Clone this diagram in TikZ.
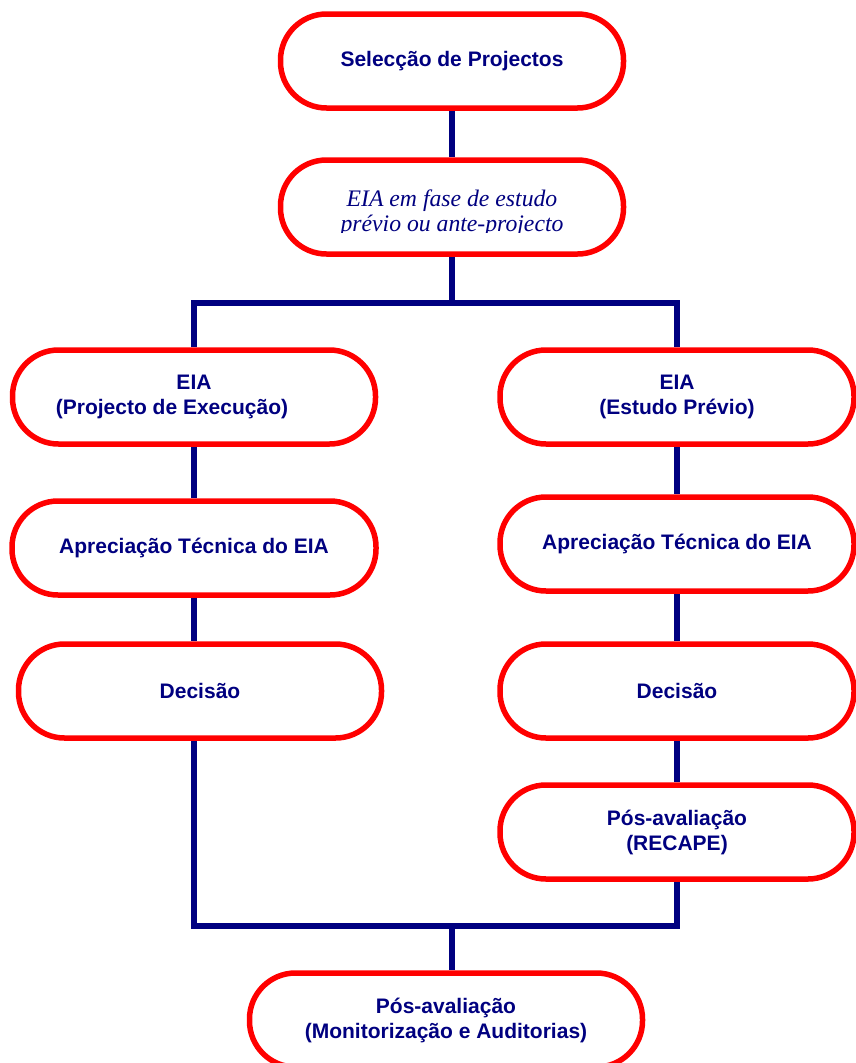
\documentclass[tikz,border=0pt]{standalone}
\usepackage{fontspec}
\setmainfont{Liberation Sans}
\newfontfamily\timesfont{Liberation Serif}
\usetikzlibrary{positioning,backgrounds}
\definecolor{boxred}{RGB}{255,0,0}
\definecolor{linknavy}{RGB}{0,0,128}
\tikzset{
  stage/.style={draw=boxred, line width=5.5pt, fill=white, rounded corners=46pt,
    minimum height=94pt, inner sep=0pt, align=center, text=linknavy,
    font=\fontsize{21}{25}\selectfont\bfseries},
  link/.style={draw=linknavy, line width=5.5pt},
}
\begin{document}
\begin{tikzpicture}[x=1pt,y=-1pt]
		\useasboundingbox (0,0) rectangle (856,1063);
		\clip (0,0) rectangle (856,1063);
		% Top
		\node[stage, minimum width=343pt] (sel) at (452,61) {Selecção de Projectos};
		\node[stage, minimum width=343pt] (eia) at (452,207) {};
		\begin{scope}
			\clip (eia.north west) rectangle (eia.east |- 0,232);
			\node[text=linknavy, align=center, font=\timesfont\itshape\fontsize{23.7}{25}\selectfont] (eiatext) at (452,213) {EIA em fase de estudo\\prévio ou ante-projecto};
		\end{scope}
		% Split
		\coordinate (split) at (452,303);
		\coordinate (splitL) at (194,303);
		\coordinate (splitR) at (677,303);
		% Left branch
		\node[stage, minimum width=363pt] (eiaL) at (194,397) {EIA\\(Projecto de Execução)\hspace*{44pt}};
		\node[stage, minimum width=364pt] (aprL) at (194,548) {Apreciação Técnica do EIA};
		\node[stage, minimum width=363pt] (decL) at (200,691) {Decisão};
		% Right branch
		\node[stage, minimum width=354pt] (eiaR) at (677,397) {EIA\\(Estudo Prévio)};
		\node[stage, minimum width=354pt] (aprR) at (677,544) {Apreciação Técnica do EIA};
		\node[stage, minimum width=354pt] (decR) at (677,691) {Decisão};
		\node[stage, minimum width=354pt] (recape) at (677,832) {Pós-avaliação\\(RECAPE)};
		% Merge
		\coordinate (merge) at (452,926);
		\coordinate (mergeL) at (194,926);
		\coordinate (mergeR) at (677,926);
		\node[stage, minimum width=393pt] (monit) at (446,1020) {Pós-avaliação\\(Monitorização e Auditorias)};
		
		\begin{scope}[on background layer]
			\draw[link] (sel) -- (eia);
			\draw[link] (eia) -- (split);
			\draw[link] (eiaL.north) -- (splitL) -- (splitR) -- (eiaR.north);
			\draw[link] (eiaL) -- (aprL);
			\draw[link] (aprL.south) -- (aprL.south |- decL.north);
			\draw[link] (eiaR) -- (aprR);
			\draw[link] (aprR) -- (decR);
			\draw[link] (decR) -- (recape);
			\draw[link] (decL.south -| mergeL) -- (mergeL) -- (mergeR) -- (recape.south);
			\draw[link] (merge) -- (merge |- monit.north);
		\end{scope}
	\end{tikzpicture}
\end{document}
